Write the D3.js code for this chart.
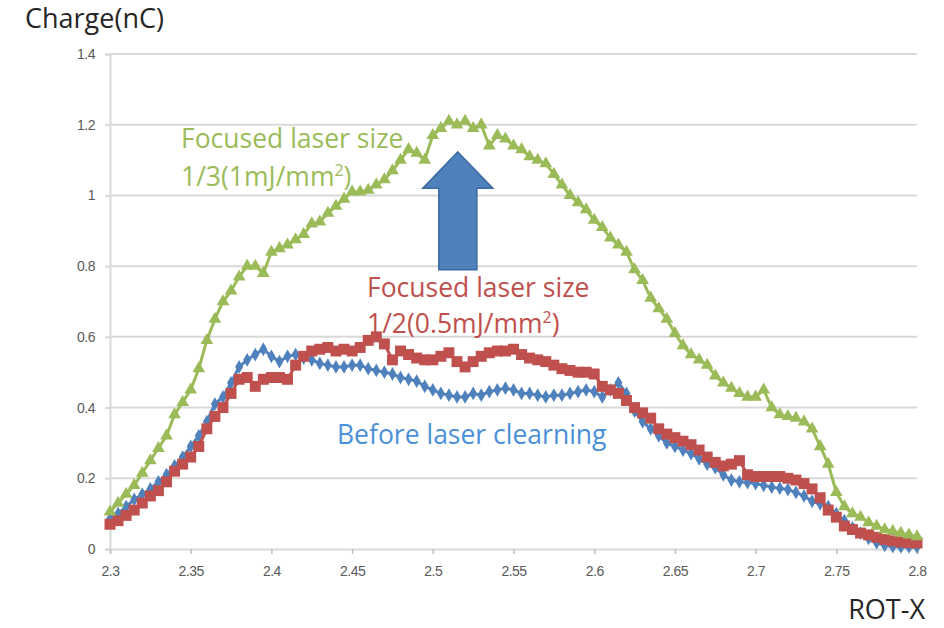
<!DOCTYPE html>
<html>
<head>
<meta charset="utf-8">
<script src="https://cdn.jsdelivr.net/npm/d3@7"></script>
<style>
  body { margin: 0; background: #fff; }
  svg { display: block; font-family: "Open Sans", Lato, sans-serif; }
</style>
</head>
<body>
<div class="chart"></div>
<script>
// ROT-X positions (shared by all three series)
const rotX = [
  2.300, 2.305, 2.310, 2.315, 2.320, 2.325, 2.330, 2.335, 2.340, 2.345,
  2.350, 2.355, 2.360, 2.365, 2.370, 2.375, 2.380, 2.385, 2.390, 2.395,
  2.400, 2.405, 2.410, 2.415, 2.420, 2.425, 2.430, 2.435, 2.440, 2.445,
  2.450, 2.455, 2.460, 2.465, 2.470, 2.475, 2.480, 2.485, 2.490, 2.495,
  2.500, 2.505, 2.510, 2.515, 2.520, 2.525, 2.530, 2.535, 2.540, 2.545,
  2.550, 2.555, 2.560, 2.565, 2.570, 2.575, 2.580, 2.585, 2.590, 2.595,
  2.600, 2.605, 2.610, 2.615, 2.620, 2.625, 2.630, 2.635, 2.640, 2.645,
  2.650, 2.655, 2.660, 2.665, 2.670, 2.675, 2.680, 2.685, 2.690, 2.695,
  2.700, 2.705, 2.710, 2.715, 2.720, 2.725, 2.730, 2.735, 2.740, 2.745,
  2.750, 2.755, 2.760, 2.765, 2.770, 2.775, 2.780, 2.785, 2.790, 2.795,
  2.800
];

// Before laser clearning (blue diamonds)
const beforeCharge = [
  0.085, 0.10, 0.12, 0.14, 0.155, 0.17, 0.19, 0.21, 0.235, 0.26,
  0.29, 0.32, 0.36, 0.41, 0.43, 0.47, 0.515, 0.535, 0.55, 0.565,
  0.545, 0.53, 0.545, 0.55, 0.54, 0.535, 0.525, 0.52, 0.515, 0.515,
  0.52, 0.52, 0.51, 0.505, 0.50, 0.495, 0.485, 0.48, 0.475, 0.46,
  0.45, 0.44, 0.435, 0.43, 0.43, 0.44, 0.435, 0.445, 0.45, 0.455,
  0.45, 0.44, 0.44, 0.435, 0.43, 0.435, 0.435, 0.44, 0.445, 0.45,
  0.445, 0.43, 0.45, 0.47, 0.44, 0.39, 0.36, 0.34, 0.32, 0.30,
  0.29, 0.28, 0.27, 0.255, 0.24, 0.23, 0.21, 0.195, 0.19, 0.188,
  0.185, 0.18, 0.175, 0.172, 0.168, 0.16, 0.15, 0.135, 0.128, 0.12,
  0.10, 0.08, 0.06, 0.045, 0.03, 0.018, 0.01, 0.007, 0.006, 0.006,
  0.006
];

// Focused laser size 1/2 (red squares)
const halfCharge = [
  0.07, 0.08, 0.095, 0.11, 0.13, 0.15, 0.165, 0.19, 0.22, 0.24,
  0.26, 0.29, 0.34, 0.375, 0.40, 0.44, 0.48, 0.485, 0.46, 0.48,
  0.485, 0.485, 0.48, 0.52, 0.545, 0.56, 0.565, 0.57, 0.56, 0.565,
  0.56, 0.57, 0.59, 0.60, 0.58, 0.535, 0.56, 0.55, 0.54, 0.535,
  0.535, 0.545, 0.555, 0.53, 0.515, 0.53, 0.545, 0.555, 0.56, 0.56,
  0.565, 0.55, 0.54, 0.535, 0.53, 0.52, 0.51, 0.505, 0.50, 0.50,
  0.495, 0.46, 0.45, 0.44, 0.42, 0.40, 0.385, 0.37, 0.34, 0.325,
  0.315, 0.305, 0.295, 0.28, 0.26, 0.245, 0.235, 0.24, 0.25, 0.21,
  0.205, 0.205, 0.205, 0.205, 0.20, 0.195, 0.185, 0.17, 0.145, 0.11,
  0.09, 0.065, 0.055, 0.045, 0.04, 0.033, 0.027, 0.023, 0.02, 0.018,
  0.017
];

// Focused laser size 1/3 (green triangles)
const thirdCharge = [
  0.105, 0.13, 0.155, 0.18, 0.215, 0.25, 0.285, 0.32, 0.38, 0.415,
  0.45, 0.51, 0.59, 0.65, 0.70, 0.73, 0.77, 0.80, 0.80, 0.78,
  0.84, 0.85, 0.86, 0.875, 0.89, 0.92, 0.925, 0.95, 0.97, 0.99,
  1.01, 1.01, 1.015, 1.03, 1.045, 1.07, 1.10, 1.13, 1.12, 1.10,
  1.17, 1.19, 1.21, 1.20, 1.21, 1.19, 1.20, 1.14, 1.17, 1.16,
  1.14, 1.13, 1.11, 1.10, 1.09, 1.06, 1.03, 1.00, 0.98, 0.96,
  0.93, 0.91, 0.88, 0.86, 0.84, 0.79, 0.76, 0.71, 0.68, 0.65,
  0.61, 0.575, 0.55, 0.535, 0.52, 0.49, 0.47, 0.455, 0.44, 0.43,
  0.43, 0.45, 0.40, 0.38, 0.375, 0.37, 0.36, 0.34, 0.29, 0.24,
  0.16, 0.12, 0.10, 0.09, 0.075, 0.065, 0.055, 0.05, 0.045, 0.04,
  0.035
];

const xTicks = [2.3, 2.35, 2.4, 2.45, 2.5, 2.55, 2.6, 2.65, 2.7, 2.75, 2.8];
const yTicks = [0, 0.2, 0.4, 0.6, 0.8, 1, 1.2, 1.4];

const width = 944;
const height = 628;
const margin = { top: 54, right: 27, bottom: 79, left: 110 };

const x = d3.scaleLinear()
  .domain([2.3, 2.8])
  .range([margin.left, width - margin.right]);

const y = d3.scaleLinear()
  .domain([0, 1.4])
  .range([height - margin.bottom, margin.top]);

const svg = d3.select(".chart")
  .append("svg")
  .attr("width", width)
  .attr("height", height);

// gridlines
svg.append("g")
  .selectAll("line")
  .data(yTicks.filter(d => d > 0))
  .join("line")
  .attr("x1", margin.left)
  .attr("x2", width - margin.right)
  .attr("y1", d => y(d))
  .attr("y2", d => y(d))
  .attr("stroke", "#d9d9d9")
  .attr("stroke-width", 2);

// y axis
const yAxis = svg.append("g")
  .attr("transform", `translate(${margin.left},0)`)
  .call(d3.axisLeft(y).tickValues(yTicks).tickSize(5).tickFormat(d3.format("")));
yAxis.select(".domain").attr("stroke", "#d9d9d9").attr("stroke-width", 2);
yAxis.selectAll(".tick line").attr("stroke", "#d9d9d9").attr("stroke-width", 2);
yAxis.selectAll(".tick text")
  .attr("x", -15)
  .attr("fill", "#595959")
  .style("font-size", "14px")
  .style("letter-spacing", "-0.5px");

// x axis
const xAxis = svg.append("g")
  .attr("transform", `translate(0,${y(0)})`)
  .call(d3.axisBottom(x).tickValues(xTicks).tickSize(5).tickFormat(d3.format("")));
xAxis.select(".domain").attr("stroke", "#d9d9d9").attr("stroke-width", 2);
xAxis.selectAll(".tick line").attr("stroke", "#bfbfbf").attr("stroke-width", 1.5);
xAxis.selectAll(".tick text")
  .attr("y", 17)
  .attr("fill", "#595959")
  .style("font-size", "14px")
  .style("letter-spacing", "-0.5px");

// axis titles
svg.append("text")
  .attr("x", 25)
  .attr("y", 28)
  .attr("fill", "#262626")
  .style("font-size", "27px")
  .text("Charge(nC)");

svg.append("text")
  .attr("x", 925)
  .attr("y", 619)
  .attr("text-anchor", "end")
  .attr("fill", "#262626")
  .style("font-size", "27px")
  .text("ROT-X");

// series
const series = [
  { name: "before", values: beforeCharge, color: "#4f81bd", symbol: d3.symbolDiamond, size: 55 },
  { name: "half", values: halfCharge, color: "#c0504d", symbol: d3.symbolSquare, size: 120 },
  { name: "third", values: thirdCharge, color: "#9bbb59", symbol: d3.symbolTriangle, size: 70 },
];

const line = d3.line()
  .x(d => x(d[0]))
  .y(d => y(d[1]));

series.forEach(s => {
  const pts = rotX.map((v, i) => [v, s.values[i]]);
  const g = svg.append("g").attr("class", s.name);
  g.append("path")
    .datum(pts)
    .attr("d", line)
    .attr("fill", "none")
    .attr("stroke", s.color)
    .attr("stroke-width", 3);
  g.selectAll("path.mark")
    .data(pts)
    .join("path")
    .attr("class", "mark")
    .attr("transform", d => `translate(${x(d[0])},${y(d[1])})`)
    .attr("d", d3.symbol().type(s.symbol).size(s.size)())
    .attr("fill", s.color);
});

// block arrow between the two focused curves
const arrowX = 2.5155;
const arrowTip = 1.123, arrowNeck = 1.02, arrowBase = 0.79;
const headHalf = 0.0217, shaftHalf = 0.0118;
const arrowPts = [
  [arrowX, arrowTip],
  [arrowX + headHalf, arrowNeck],
  [arrowX + shaftHalf, arrowNeck],
  [arrowX + shaftHalf, arrowBase],
  [arrowX - shaftHalf, arrowBase],
  [arrowX - shaftHalf, arrowNeck],
  [arrowX - headHalf, arrowNeck],
];
svg.append("path")
  .attr("d", d3.line().x(d => x(d[0])).y(d => y(d[1]))(arrowPts) + "Z")
  .attr("fill", "#4f81bd")
  .attr("stroke", "#3c6aa0")
  .attr("stroke-width", 1.5);

// annotations
function label(lines, px, py, color, gap) {
  const t = svg.append("text")
    .attr("x", px)
    .attr("y", py)
    .attr("fill", color)
    .style("font-size", "26.5px");
  lines.forEach((ln, i) => {
    const ts = t.append("tspan").attr("x", px).attr("dy", i === 0 ? 0 : gap);
    ts.text(ln[0]);
    if (ln[1]) {
      ts.append("tspan").attr("dy", -10).style("font-size", "16px").text(ln[1]);
      ts.append("tspan").attr("dy", 10).text(ln[2]);
    }
  });
}

label([["Focused laser size"], ["1/3(1mJ/mm", "2", ")"]], 181, 148, "#9bbb59", 38);
label([["Focused laser size"], ["1/2(0.5mJ/mm", "2", ")"]], 367, 297, "#c0504d", 36);
label([["Before laser clearning"]], 337, 444, "#4a90d9", 0);
</script>
</body>
</html>
